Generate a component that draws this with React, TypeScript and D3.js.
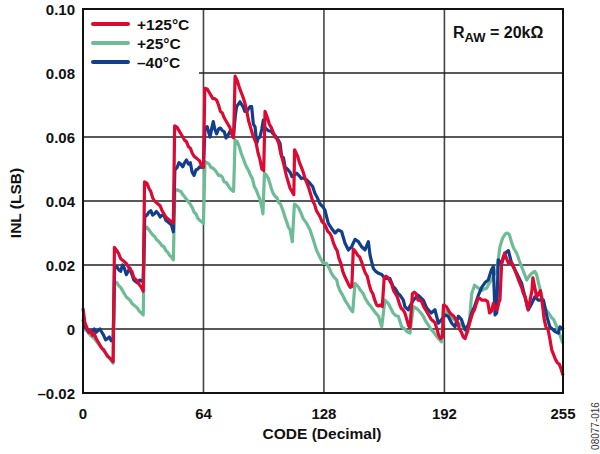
import React from "react";
import * as d3 from "d3";

const xTicks = [0, 64, 128, 192, 255];
const yTicks = [-0.02, 0, 0.02, 0.04, 0.06, 0.08, 0.1];
const yTickLabels = ["–0.02", "0", "0.02", "0.04", "0.06", "0.08", "0.10"];
const seriesNames = ["+125°C", "+25°C", "–40°C"];

const red125: [number, number][] = [
  [0,0.0065],[1,0.002],[2,0.0005],[3,-0.001],[4,-0.0005],[5,-0.002],[6,-0.0015],[7,-0.003],[8,-0.004],[9,-0.005],[10,-0.006],[11,-0.0065],[12,-0.0075],[13,-0.0085],[14,-0.009],[15,-0.0095],[16,-0.0102],
  [16.7,0.0255],[18,0.0245],[19,0.0235],[20,0.022],[21,0.0215],[22,0.021],[23,0.0205],[24,0.0195],[25,0.0185],[26,0.018],[27,0.016],[28,0.0155],[29,0.0148],[30,0.0138],[31,0.013],[32,0.0118],
  [32.7,0.046],[34,0.0455],[35,0.044],[36,0.043],[37,0.041],[38,0.04],[39,0.0395],[40,0.039],[41,0.0385],[42,0.037],[43,0.036],[44,0.035],[45,0.0345],[46,0.034],[47,0.0335],[48,0.033],
  [48.7,0.0635],[50,0.063],[51,0.062],[52,0.061],[53,0.06],[54,0.059],[55,0.0585],[56,0.057],[57,0.0565],[58,0.055],[59,0.054],[60,0.0535],[61,0.053],[62,0.0525],[63,0.051],[64,0.0505],
  [64.7,0.0752],[66,0.075],[67,0.074],[68,0.073],[69,0.072],[70,0.072],[71,0.0715],[72,0.07],[73,0.068],[74,0.0675],[75,0.066],[76,0.065],[77,0.064],[78,0.063],[79,0.061],[80,0.0597],
  [80.8,0.079],[82,0.0775],[83,0.0756],[84,0.074],[85,0.0725],[86,0.0706],[87,0.068],[88,0.065],[89,0.063],[90,0.061],[91,0.0595],[92,0.058],[93,0.055],[94,0.053],[95,0.05],[96,0.0495],
  [96.7,0.068],[98,0.066],[99,0.064],[100,0.063],[101,0.0615],[102,0.06],[103,0.0595],[104,0.058],[105,0.055],[106,0.053],[107,0.0506],[108,0.048],[109,0.046],[110,0.044],[111,0.043],[112,0.042],
  [112.4,0.056],[114,0.054],[115,0.052],[116,0.0506],[117,0.049],[118,0.047],[119,0.0456],[120,0.044],[121,0.042],[122,0.04],[123,0.039],[124,0.037],[125,0.036],[126,0.035],[127,0.0335],[128,0.033],
  [129,0.032],[130,0.0305],[131,0.03],[132,0.029],[133,0.027],[134,0.0255],[135,0.0245],[136,0.022],[137,0.0205],[138,0.018],[139,0.0165],[140,0.0153],[141,0.014],[142,0.013],[142.8,0.0132],
  [143.6,0.025],[145,0.024],[146,0.023],[147,0.0225],[148,0.021],[149,0.019],[150,0.0175],[151,0.0165],[152,0.014],[153,0.012],[154,0.011],[155,0.009],[156,0.0075],[157,0.0072],[158,0.0075],[159,0.007],
  [160,0.016],[161,0.0165],[162,0.016],[163,0.015],[164,0.014],[165,0.012],[166,0.011],[167,0.01],[168,0.008],[169,0.0065],[170,0.006],[171,0.005],[172,0.003],[173,0.001],[173.7,0.0003],
  [175,0.011],[176,0.0115],[177,0.011],[178,0.009],[179,0.009],[180,0.0085],[181,0.007],[182,0.006],[183,0.005],[184,0.004],[185,0.003],[186,0.0025],[187,0.002],[188,0.0],[189,-0.002],[190,-0.003],[191,-0.0025],
  [191.5,0.0075],[193,0.007],[194,0.006],[195,0.005],[196,0.0045],[197,0.004],[198,0.003],[199,0.002],[200,0.0],[201,-0.001],[202,-0.0025],[203,-0.003],[204,-0.001],[205,0.001],[206,0.003],[207,0.005],[208,0.006],[209,0.008],
  [210,0.0097],[211,0.0095],[212,0.009],[213,0.009],[214,0.009],[215,0.0085],[216,0.005],[217,0.0055],[218,0.008],[219,0.0065],[220,0.006],[221,0.0085],[221.5,0.009],[222.4,0.0206],[223,0.022],[224,0.0237],
  [225,0.022],[226,0.0206],[227,0.021],[228,0.0205],[229,0.019],[230,0.0175],[231,0.016],[232,0.0144],[233,0.013],[234,0.011],[235,0.01],[236,0.007],[236.5,0.006],[237.5,0.009],[238.5,0.012],[239,0.016],
  [240,0.013],[241,0.01],[242,0.011],[243,0.012],[244,0.008],[245,0.003],[246,0.0005],[247,0.0],[248,-0.003],[249,-0.0065],[250,-0.008],[251,-0.0095],[252,-0.0105],[253,-0.011],[254,-0.0125],[255,-0.0145],
];

const green25: [number, number][] = [
  [0,0.0],[2,-0.0005],[4,-0.002],[6,-0.003],[8,-0.0045],[10,-0.006],[12,-0.0075],[14,-0.009],[16,-0.0107],
  [16.8,0.0148],[18,0.0145],[19,0.0135],[20,0.013],[21,0.012],[22,0.011],[23,0.01],[24,0.0095],[25,0.009],[26,0.008],[27,0.0075],[28,0.007],[29,0.0065],[30,0.0055],[31,0.005],[32,0.0044],
  [32.8,0.032],[34,0.0318],[35,0.031],[36,0.0302],[37,0.0294],[38,0.029],[39,0.028],[40,0.0275],[41,0.0268],[42,0.026],[43,0.0257],[44,0.0245],[45,0.024],[46,0.023],[47,0.0225],[48,0.0216],
  [48.8,0.0434],[50,0.0435],[51,0.0432],[52,0.043],[53,0.042],[54,0.0413],[55,0.0405],[56,0.0398],[57,0.039],[58,0.038],[59,0.0365],[60,0.036],[61,0.0346],[62,0.034],[63,0.0335],[64,0.033],
  [64.8,0.0523],[66,0.052],[67,0.0515],[68,0.0505],[69,0.0503],[70,0.0497],[71,0.049],[72,0.048],[73,0.048],[74,0.0475],[75,0.046],[76,0.0458],[77,0.045],[78,0.044],[79,0.0434],[80,0.043],
  [80.8,0.059],[82,0.0585],[83,0.057],[84,0.055],[85,0.0535],[86,0.0518],[87,0.0505],[88,0.0495],[89,0.048],[90,0.047],[91,0.0445],[92,0.0435],[93,0.042],[94,0.0405],[95,0.038],[95.6,0.036],
  [96.4,0.0487],[97.6,0.048],[98.5,0.047],[99.3,0.0455],[100,0.044],[101,0.0424],[102,0.0415],[103,0.041],[104,0.0395],[105,0.039],[106.4,0.0367],[107.3,0.035],[108.2,0.0335],[109,0.032],[110,0.031],[111.2,0.0273],
  [112.3,0.039],[113,0.0388],[114.4,0.038],[116,0.036],[117,0.0345],[118.8,0.033],[120.6,0.031],[122.3,0.028],[124,0.0247],[125,0.0235],[126,0.0222],[127.7,0.0205],[129.4,0.0205],[130.8,0.019],
  [132,0.0174],[133,0.0165],[134.8,0.0153],[135.5,0.0135],[136.5,0.012],[138,0.0105],[139.2,0.009],[140.5,0.0078],[141.8,0.0065],[143.3,0.0054],
  [144.5,0.0143],[146.3,0.0132],[147.5,0.012],[148.9,0.011],[150,0.0095],[151.6,0.008],[153,0.007],[154.2,0.006],[155.5,0.005],[157,0.004],[158,0.002],[158.7,0.0007],
  [160.4,0.009],[162.2,0.008],[163.5,0.0065],[164.8,0.005],[166,0.0042],[167.5,0.004],[169.3,0.0007],[171,0.0],[172,-0.0008],[173.7,-0.0013],
  [175.5,0.007],[177,0.0065],[178,0.006],[179.5,0.005],[180.8,0.004],[182,0.0025],[183.4,0.0013],[184.7,0.0],[186,-0.0008],[187.5,-0.002],[188.8,-0.003],[190.5,-0.004],
  [191.5,0.006],[193,0.0055],[195,0.004],[197,0.003],[199,0.002],[201,0.0012],[203,0.0],[204.5,-0.001],[205.5,0.004],[206.5,0.011],[208,0.0137],[210,0.0128],[211.8,0.012],[213,0.0125],[214.4,0.0127],
  [215.5,0.014],[217,0.0153],[218.5,0.017],[219.8,0.0184],[220.7,0.022],[221.5,0.0257],[223,0.0285],[224.5,0.0298],[225.5,0.03],[226.5,0.0295],[227.7,0.027],[229,0.025],[230.4,0.0237],[231.7,0.0215],
  [233,0.0195],[234.3,0.0175],[235.7,0.0153],[237,0.0165],[238.4,0.0174],[240,0.018],[241,0.017],[242,0.0143],[243.5,0.011],[244.6,0.008],[246,0.006],[247.4,0.005],[249,0.0035],[250,0.003],
  [251.7,0.0007],[253.4,-0.0019],[255,-0.0045],
];

const blue40: [number, number][] = [
  [0,0.003],[1,0.0005],[2,0.0],[3,-0.001],[4,-0.0005],[5,-0.0008],[6,0.0],[7,-0.001],[8,-0.0005],[9,0.0],[10,-0.001],[11,-0.002],[12,-0.0034],[13,-0.003],[14,-0.0025],[15,-0.0037],[16,-0.0035],
  [16.8,0.019],[18,0.0195],[19,0.0185],[20,0.018],[21,0.02],[22,0.019],[23,0.017],[24,0.018],[25,0.019],[26,0.017],[27,0.0153],[28,0.0148],[29,0.0144],[30,0.0153],[31,0.015],[32,0.0155],
  [32.8,0.035],[34,0.0356],[35,0.0365],[36,0.037],[37,0.0356],[38,0.036],[39,0.0367],[40,0.036],[41,0.035],[42,0.0356],[43,0.0355],[44,0.034],[45,0.0335],[46,0.033],[47,0.0325],[48,0.0304],
  [48.8,0.0497],[50,0.0505],[51,0.052],[52,0.0515],[53,0.0507],[54,0.052],[55,0.0528],[56,0.0515],[57,0.052],[58,0.049],[59,0.048],[60,0.0497],[61,0.05],[62,0.0507],[63,0.0505],[64,0.0507],
  [64.8,0.0628],[66,0.0632],[67,0.061],[67.5,0.06],[68.5,0.063],[69.2,0.0648],[70,0.0625],[71,0.061],[72,0.0625],[73,0.0628],[74,0.062],[75,0.0617],[76,0.0597],[77,0.0605],[78,0.0617],[79,0.0612],[80,0.061],
  [81,0.067],[81.6,0.0695],[83.4,0.071],[85,0.0695],[86,0.068],[87,0.068],[88.7,0.0695],[89.6,0.0695],[90.5,0.064],[91.4,0.0632],[92.3,0.058],[93,0.0595],[94,0.06],[95,0.0625],[95.8,0.0653],
  [96.6,0.063],[98.4,0.062],[100,0.0618],[101,0.061],[102,0.0605],[103.8,0.059],[104.7,0.058],[105.5,0.054],[106.5,0.0535],[107.3,0.0507],[109,0.0497],[110,0.049],[111,0.0476],[112,0.048],
  [113.5,0.0487],[115,0.0478],[116,0.047],[117,0.0472],[118.8,0.0466],[120.6,0.0455],[122,0.0445],[123.2,0.0424],[124.5,0.041],[126,0.039],[127.7,0.038],[128.6,0.037],[130.3,0.033],[132,0.0315],
  [133.9,0.03],[135.6,0.031],[137.4,0.0304],[139.2,0.0268],[141,0.0247],[142.7,0.0257],[144.5,0.028],[146.3,0.0273],[148,0.0257],[149.8,0.0247],[151.6,0.0273],[152.5,0.023],[154.2,0.019],
  [155.5,0.018],[157,0.0174],[158.7,0.017],[160.4,0.0158],[163,0.0158],[164.8,0.0132],[166,0.0125],[167.5,0.011],[168.4,0.0106],[170.2,0.009],[171,0.007],[172.8,0.006],[174,0.0075],[175.5,0.009],
  [178,0.0106],[180.8,0.009],[182.6,0.0065],[185,0.005],[187,0.006],[188.8,0.0018],[190.5,0.003],[192.3,0.0044],[194,0.004],[195.9,0.0018],[197.6,0.0007],[199.4,0.004],[201,0.003],[203,-0.0003],
  [204.7,0.0013],[206.5,0.005],[208,0.007],[210,0.0105],[211.8,0.013],[213.6,0.0145],[215.3,0.0153],[217,0.0185],[218,0.0195],[218.9,0.0044],[219.8,0.005],[220.6,0.0216],[222.4,0.0205],[224.2,0.0237],
  [226,0.0245],[227.7,0.0205],[229,0.019],[230.4,0.0174],[233,0.0143],[234.8,0.01],[236.6,0.006],[238.4,0.008],[240,0.01],[242,0.009],[244.6,0.009],[246.4,0.004],[248,0.0007],[250.8,-0.0008],
  [252.5,-0.0013],[253.4,0.0007],[254.7,0.0],[255,0.0005],
];

const W = 600;
const H = 454;
const L = 83, R = 563, T = 9, B = 393;
const FONT = "'Liberation Sans', Arial, Helvetica, sans-serif";
const colors = ["#DC0A33", "#6DBC96", "#123F8C"];

export default function App() {
  const x = d3.scaleLinear().domain([0, 255]).range([L, R]);
  const y = d3.scaleLinear().domain([-0.02, 0.1]).range([B, T]);
  const line = d3
    .line<[number, number]>()
    .x((d) => x(d[0]))
    .y((d) => y(d[1]));
  const gridX = xTicks.filter((t) => t !== 0 && t !== 255);
  const gridY = yTicks.filter((t) => t !== -0.02 && t !== 0.1);
  const legendRows = [0, 1, 2];

  return (
    <svg
      width={W}
      height={H}
      style={{ position: "absolute", left: 0, top: 0, background: "#fff" }}
      fontFamily={FONT}
    >
      <rect x={0} y={0} width={W} height={H} fill="#fff" />
      {gridX.map((t) => (
        <line key={"gx" + t} x1={x(t)} x2={x(t)} y1={T} y2={B} stroke="#444" strokeWidth={1.6} />
      ))}
      {gridY.map((t) => (
        <line key={"gy" + t} x1={L} x2={R} y1={y(t)} y2={y(t)} stroke="#222" strokeWidth={1.6} />
      ))}
      <rect x={L + 1} y={T + 1} width={115} height={66} fill="#fff" />
      <path d={line(green25) || ""} fill="none" stroke={colors[1]} strokeWidth={3.2} strokeLinejoin="round" />
      <path d={line(blue40) || ""} fill="none" stroke={colors[2]} strokeWidth={3.2} strokeLinejoin="round" />
      <path d={line(red125) || ""} fill="none" stroke={colors[0]} strokeWidth={3.2} strokeLinejoin="round" />
      <rect x={L} y={T} width={R - L} height={B - T} fill="none" stroke="#111" strokeWidth={2} />
      {legendRows.map((i) => (
        <g key={"lg" + i}>
          <line x1={93} x2={128} y1={24 + i * 19} y2={24 + i * 19} stroke={colors[i]} strokeWidth={4} strokeLinecap="round" />
          <text x={137} y={29.5 + i * 19} fontSize={15.5} fontWeight="bold" fill="#111">
            {seriesNames[i]}
          </text>
        </g>
      ))}
      {yTicks.map((t, i) => (
        <text key={"yt" + i} x={75} y={y(t) + 5.5} textAnchor="end" fontSize={15} fontWeight="bold" fill="#111">
          {yTickLabels[i]}
        </text>
      ))}
      {xTicks.map((t) => (
        <text key={"xt" + t} x={x(t)} y={419} textAnchor="middle" fontSize={15} fontWeight="bold" fill="#111">
          {String(t)}
        </text>
      ))}
      <text x={322} y={439} textAnchor="middle" fontSize={15.5} fontWeight="bold" fill="#111">
        CODE (Decimal)
      </text>
      <text transform="translate(21,203) rotate(-90)" textAnchor="middle" fontSize={15.5} fontWeight="bold" fill="#111">
        INL (LSB)
      </text>
      <text x={453} y={38} fontSize={16} fontWeight="bold" fill="#111">
        R<tspan fontSize={13} dy={4}>AW</tspan>
        <tspan dy={-4}> = 20kΩ</tspan>
      </text>
      <text transform="translate(599,426) rotate(-90)" textAnchor="middle" fontSize={10} fill="#333">
        08077-016
      </text>
    </svg>
  );
}
